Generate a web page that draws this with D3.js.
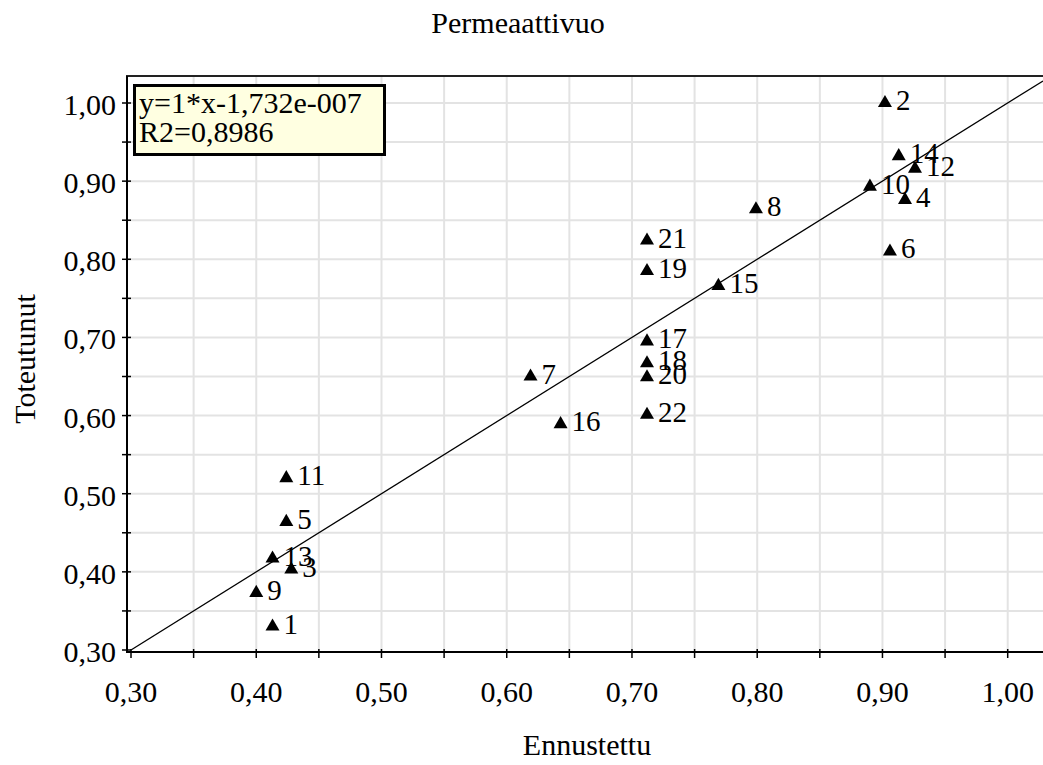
<!DOCTYPE html>
<html>
<head>
<meta charset="utf-8">
<script src="https://cdn.jsdelivr.net/npm/d3@7"></script>
<style>
html,body{margin:0;padding:0;background:#fff;}
svg{display:block;}
text{font-family:"Liberation Serif","Times New Roman",serif;fill:#000;}
</style>
</head>
<body>
<script>
// ---- data ----
const ids = [1,2,3,4,5,6,7,8,9,10,11,12,13,14,15,16,17,18,19,20,21,22];
const predicted = [0.413,0.902,0.428,0.918,0.424,0.906,0.619,0.799,0.400,0.890,0.424,0.926,0.413,0.913,0.769,0.643,0.712,0.712,0.712,0.712,0.712,0.712];
const actual    = [0.330,1.000,0.403,0.876,0.464,0.810,0.650,0.864,0.373,0.893,0.520,0.916,0.417,0.932,0.766,0.589,0.695,0.667,0.785,0.649,0.824,0.601];
const tickValues = [0.30,0.40,0.50,0.60,0.70,0.80,0.90,1.00];
const minorTicks = [0.35,0.45,0.55,0.65,0.75,0.85,0.95];
const gridValues = [0.35,0.40,0.45,0.50,0.55,0.60,0.65,0.70,0.75,0.80,0.85,0.90,0.95,1.00];
const slope = 1, intercept = -1.732e-7;
const title = "Permeaattivuo";
const xTitle = "Ennustettu";
const yTitle = "Toteutunut";
const boxLines = ["y=1*x-1,732e-007", "R2=0,8986"];

const W = 1043, H = 765;
const plot = {left:127, right:1043, top:76, bottom:652};
const fmt = v => v.toFixed(2).replace(".", ",");

const svg = d3.select("body").append("svg").attr("width", W).attr("height", H);

const x = d3.scaleLinear().domain([0.30,1.00]).range([131,1007.7]);
const y = d3.scaleLinear().domain([0.30,1.00]).range([650,103]);
const xMax = x.invert(plot.right);

svg.append("clipPath").attr("id","clip").append("rect")
  .attr("x",plot.left).attr("y",plot.top).attr("width",plot.right-plot.left).attr("height",plot.bottom-plot.top);

// grid
const grid = svg.append("g").attr("stroke","#e3e3e3").attr("stroke-width",2);
grid.selectAll(".gx").data(gridValues).join("line")
  .attr("x1",d=>x(d)).attr("x2",d=>x(d)).attr("y1",plot.top).attr("y2",plot.bottom);
grid.selectAll(".gy").data(gridValues).join("line")
  .attr("y1",d=>y(d)).attr("y2",d=>y(d)).attr("x1",plot.left).attr("x2",plot.right);

// regression line
svg.append("line").attr("clip-path","url(#clip)")
  .attr("x1",x(0.30)).attr("y1",y(slope*0.30+intercept))
  .attr("x2",x(xMax)).attr("y2",y(slope*xMax+intercept))
  .attr("stroke","#000").attr("stroke-width",1.3);

// frame / axes
svg.append("line").attr("x1",plot.left-1).attr("x2",plot.right).attr("y1",plot.top).attr("y2",plot.top).attr("stroke","#222").attr("stroke-width",2);
svg.append("line").attr("x1",plot.left).attr("x2",plot.left).attr("y1",plot.top).attr("y2",plot.bottom+1).attr("stroke","#000").attr("stroke-width",2);
svg.append("line").attr("x1",plot.left-1).attr("x2",plot.right).attr("y1",plot.bottom).attr("y2",plot.bottom).attr("stroke","#000").attr("stroke-width",2);

// ticks
const allTicks = tickValues.concat(minorTicks);
svg.append("g").selectAll("line").data(allTicks).join("line")
  .attr("x1",d=>x(d)).attr("x2",d=>x(d)).attr("y1",plot.bottom-3).attr("y2",plot.bottom+6)
  .attr("stroke","#000").attr("stroke-width",1.5);
svg.append("g").selectAll("line").data(allTicks).join("line")
  .attr("y1",d=>y(d)).attr("y2",d=>y(d)).attr("x1",plot.left-5).attr("x2",plot.left+4)
  .attr("stroke","#000").attr("stroke-width",1.5);

// tick labels
svg.append("g").selectAll("text").data(tickValues).join("text")
  .attr("x",d=>x(d)).attr("y",702).attr("text-anchor","middle")
  .attr("font-size",30).text(fmt);
svg.append("g").selectAll("text").data(tickValues).join("text")
  .attr("x",116).attr("y",d=>y(d)+12).attr("text-anchor","end")
  .attr("font-size",30).text(fmt);

// titles
svg.append("text").attr("x",518).attr("y",33).attr("text-anchor","middle").attr("font-size",30).text(title);
svg.append("text").attr("x",587).attr("y",755).attr("text-anchor","middle").attr("font-size",30).text(xTitle);
svg.append("text").attr("transform","translate(35,359) rotate(-90)").attr("text-anchor","middle").attr("font-size",30).text(yTitle);

// points
const pts = ids.map((id,i)=>({id, px:predicted[i], py:actual[i]}));
const tri = d3.symbol().type(d3.symbolTriangle).size(85);
const gp = svg.append("g");
gp.selectAll("path").data(pts).join("path")
  .attr("d",tri).attr("transform",d=>`translate(${x(d.px)},${y(d.py)})`).attr("fill","#000");
gp.selectAll("text").data(pts).join("text")
  .attr("x",d=>x(d.px)+11).attr("y",d=>y(d.py)+7).attr("font-size",29).text(d=>d.id);

// equation box
const box = svg.append("g");
box.append("rect").attr("x",134.5).attr("y",85.5).attr("width",250).attr("height",69)
  .attr("fill","#ffffe1").attr("stroke","#000").attr("stroke-width",3);
box.selectAll("text").data(boxLines).join("text")
  .attr("x",139).attr("y",(d,i)=>113+i*28.5).attr("font-size",30).text(d=>d);
</script>
</body>
</html>
